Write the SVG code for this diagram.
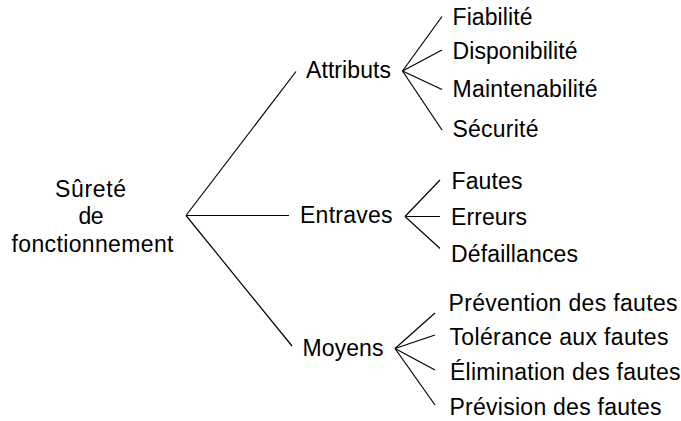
<svg xmlns="http://www.w3.org/2000/svg" width="681" height="421" viewBox="0 0 681 421">
<style>
text{font-family:"Liberation Sans",Arial,sans-serif;font-size:23px;fill:#000}
.c line{stroke:#000;stroke-width:1.2}
</style>
<rect width="681" height="421" fill="#fff"/>
<g class="c" id="connectors">
<line x1="186" y1="215.5" x2="296" y2="71.5"/>
<line x1="186" y1="215.5" x2="289" y2="215.5"/>
<line x1="186" y1="215.5" x2="292" y2="346"/>
<line x1="402.5" y1="71" x2="442" y2="16.5"/>
<line x1="402.5" y1="71" x2="442" y2="50"/>
<line x1="402.5" y1="71" x2="442" y2="89.5"/>
<line x1="402.5" y1="71" x2="442" y2="130"/>
<line x1="405" y1="216.5" x2="440" y2="180"/>
<line x1="405" y1="216.5" x2="440" y2="216.5"/>
<line x1="405" y1="216.5" x2="440" y2="248.5"/>
<line x1="395" y1="348.5" x2="435" y2="313"/>
<line x1="395" y1="348.5" x2="435" y2="335"/>
<line x1="395" y1="348.5" x2="435" y2="370"/>
<line x1="395" y1="348.5" x2="435" y2="405"/>
</g>
<g id="root"><text x="55" y="196.5" textLength="71">Sûreté</text><text x="78.5" y="224" textLength="25">de</text><text x="11.5" y="251.5" textLength="162">fonctionnement</text></g>
<g id="attributs"><text x="306" y="78" textLength="85">Attributs</text></g>
<g id="entraves"><text x="300" y="223" textLength="92.5">Entraves</text></g>
<g id="moyens"><text x="302.5" y="356" textLength="81">Moyens</text></g>
<g id="fiabilite"><text x="452.5" y="25" textLength="80">Fiabilité</text></g>
<g id="disponibilite"><text x="452.5" y="59" textLength="125">Disponibilité</text></g>
<g id="maintenabilite"><text x="452.5" y="96.5" textLength="145">Maintenabilité</text></g>
<g id="securite"><text x="452.5" y="137" textLength="86">Sécurité</text></g>
<g id="fautes"><text x="451.5" y="189" textLength="71">Fautes</text></g>
<g id="erreurs"><text x="451" y="225" textLength="76">Erreurs</text></g>
<g id="defaillances"><text x="451" y="261.5" textLength="127">Défaillances</text></g>
<g id="prevention"><text x="448.5" y="311" textLength="229">Prévention des fautes</text></g>
<g id="tolerance"><text x="449.5" y="345" textLength="219">Tolérance aux fautes</text></g>
<g id="elimination"><text x="450" y="380" textLength="230.5">Élimination des fautes</text></g>
<g id="prevision"><text x="449.5" y="415" textLength="212">Prévision des fautes</text></g>
</svg>
